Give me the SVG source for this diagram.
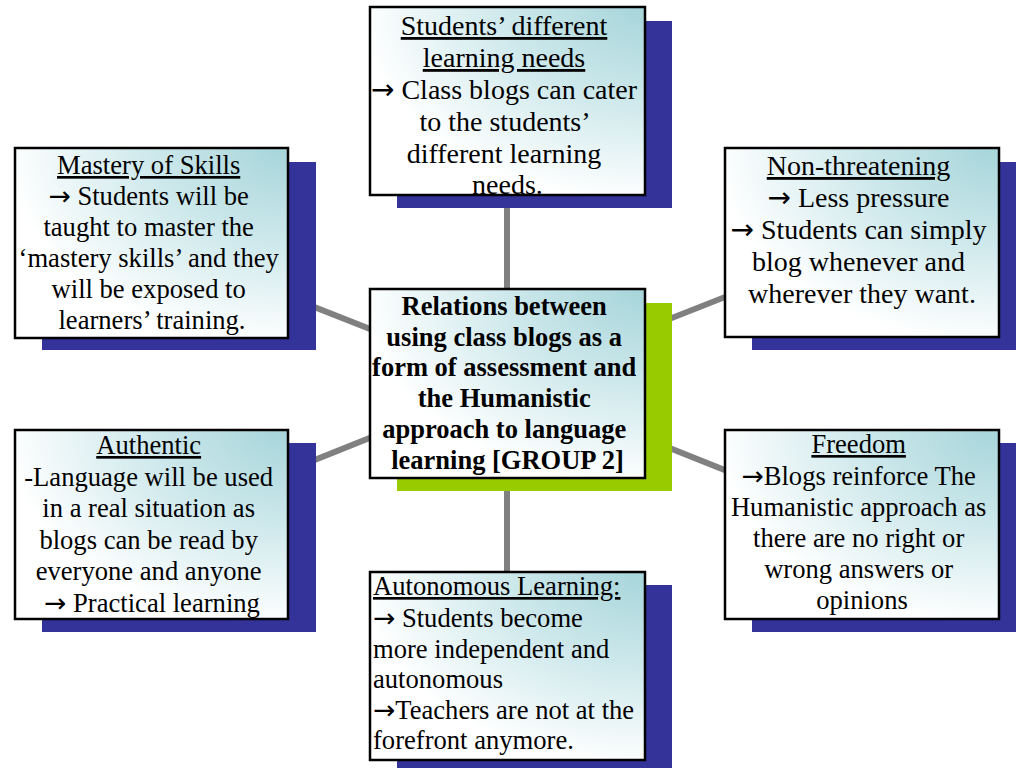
<svg xmlns="http://www.w3.org/2000/svg" width="1016" height="769" viewBox="0 0 1016 769">
  <defs>
    <radialGradient id="boxFill" cx="1" cy="0" r="1.15" fx="1" fy="0">
      <stop offset="0" stop-color="#a6d5da"/>
      <stop offset="0.45" stop-color="#cfe9ec"/>
      <stop offset="0.9" stop-color="#ffffff"/>
    </radialGradient>
    <style>
      .link { stroke: #808080; stroke-width: 6; fill: none; }
      .shadow { fill: #333399; }
      .shadow-hub { fill: #99cc00; }
      .box { fill: url(#boxFill); stroke: #000000; stroke-width: 2.5; }
      .txt { font-family: "Liberation Serif", "Times New Roman", serif; font-size: 28px; fill: #000000; text-anchor: middle; }
      .sm { font-size: 26.6px; }
      .left { text-anchor: start; }
      .hub { font-family: "Liberation Serif", "Times New Roman", serif; font-size: 26.5px; font-weight: bold; fill: #000000; text-anchor: middle; }
      .u { text-decoration: underline; }
      .arr { font-family: "DejaVu Sans", sans-serif; font-size: 1em; }
    </style>
  </defs>

  <rect width="1016" height="769" fill="#ffffff"/>

  <!-- spokes from the hub to every topic box -->
  <g id="connectors">
    <line class="link" x1="507" y1="383" x2="507" y2="101"/>
    <line class="link" x1="507" y1="383" x2="507" y2="666"/>
    <line class="link" x1="507" y1="383" x2="152" y2="243"/>
    <line class="link" x1="507" y1="383" x2="862" y2="243"/>
    <line class="link" x1="507" y1="383" x2="152" y2="525"/>
    <line class="link" x1="507" y1="383" x2="862" y2="525"/>
  </g>

  <g id="node-needs">
    <rect class="shadow" x="397" y="21" width="275" height="187"/>
    <rect class="box" x="370" y="7" width="275" height="188"/>
    <text class="txt">
      <tspan class="u" x="507.5" y="35">Students’ different</tspan>
      <tspan class="u" x="507.5" y="67">learning needs</tspan>
      <tspan x="507.5" y="99"><tspan class="arr">→</tspan> Class blogs can cater</tspan>
      <tspan x="507.5" y="131">to the students’</tspan>
      <tspan x="507.5" y="163">different learning</tspan>
      <tspan x="507.5" y="194">needs.</tspan>
    </text>
  </g>

  <g id="node-mastery">
    <rect class="shadow" x="42" y="162" width="274" height="188"/>
    <rect class="box" x="15" y="148" width="273" height="190"/>
    <text class="txt sm">
      <tspan class="u" x="152" y="174">Mastery of Skills</tspan>
      <tspan x="152" y="205"><tspan class="arr">→</tspan> Students will be</tspan>
      <tspan x="152" y="236">taught to master the</tspan>
      <tspan x="152" y="267">‘mastery skills’ and they</tspan>
      <tspan x="152" y="298">will be exposed to</tspan>
      <tspan x="152" y="329">learners’ training.</tspan>
    </text>
  </g>

  <g id="node-nonthreatening">
    <rect class="shadow" x="752" y="162" width="274" height="188"/>
    <rect class="box" x="725" y="148" width="274" height="189"/>
    <text class="txt">
      <tspan class="u" x="862" y="175">Non-threatening</tspan>
      <tspan x="862" y="207"><tspan class="arr">→</tspan> Less pressure</tspan>
      <tspan x="862" y="239"><tspan class="arr">→</tspan> Students can simply</tspan>
      <tspan x="862" y="271">blog whenever and</tspan>
      <tspan x="862" y="303">wherever they want.</tspan>
    </text>
  </g>

  <g id="node-hub">
    <rect class="shadow-hub" x="397" y="303" width="275" height="188"/>
    <rect class="box" x="370" y="289" width="275" height="189"/>
    <text class="hub">
      <tspan x="507.5" y="315">Relations between</tspan>
      <tspan x="507.5" y="346">using class blogs as a</tspan>
      <tspan x="507.5" y="376">form of assessment and</tspan>
      <tspan x="507.5" y="407">the Humanistic</tspan>
      <tspan x="507.5" y="438">approach to language</tspan>
      <tspan x="507.5" y="469">learning [GROUP 2]</tspan>
    </text>
  </g>

  <g id="node-authentic">
    <rect class="shadow" x="42" y="443" width="274" height="189"/>
    <rect class="box" x="15" y="430" width="273" height="189"/>
    <text class="txt sm">
      <tspan class="u" x="152" y="454">Authentic</tspan>
      <tspan x="152" y="486">-Language will be used</tspan>
      <tspan x="152" y="517">in a real situation as</tspan>
      <tspan x="152" y="549">blogs can be read by</tspan>
      <tspan x="152" y="580">everyone and anyone</tspan>
      <tspan x="152" y="612"><tspan class="arr">→</tspan> Practical learning</tspan>
    </text>
  </g>

  <g id="node-freedom">
    <rect class="shadow" x="752" y="443" width="274" height="189"/>
    <rect class="box" x="725" y="430" width="274" height="189"/>
    <text class="txt sm">
      <tspan class="u" x="862" y="453">Freedom</tspan>
      <tspan x="862" y="485"><tspan class="arr">→</tspan>Blogs reinforce The</tspan>
      <tspan x="862" y="516">Humanistic approach as</tspan>
      <tspan x="862" y="547">there are no right or</tspan>
      <tspan x="862" y="578">wrong answers or</tspan>
      <tspan x="862" y="609">opinions</tspan>
    </text>
  </g>

  <g id="node-autonomous">
    <rect class="shadow" x="397" y="585" width="275" height="183"/>
    <rect class="box" x="370" y="572" width="275" height="188"/>
    <text class="txt sm left">
      <tspan class="u" x="373" y="595">Autonomous Learning:</tspan>
      <tspan x="373" y="627"><tspan class="arr">→</tspan> Students become</tspan>
      <tspan x="373" y="658">more independent and</tspan>
      <tspan x="373" y="688">autonomous</tspan>
      <tspan x="373" y="719"><tspan class="arr">→</tspan>Teachers are not at the</tspan>
      <tspan x="373" y="749">forefront anymore.</tspan>
    </text>
  </g>
</svg>
